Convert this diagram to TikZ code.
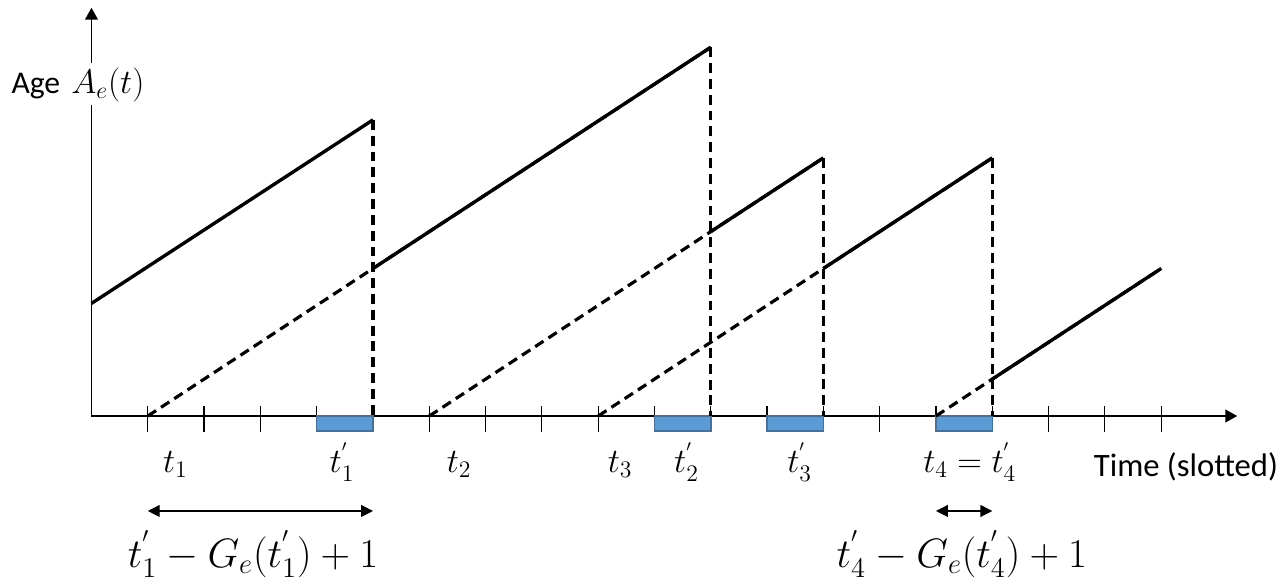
\documentclass[tikz,border=0pt]{standalone}
\usepackage{amsmath}
\usepackage{fontspec}
\newfontfamily\calibrifont{Carlito}
\usepackage{tikz}
\usetikzlibrary{arrows.meta,positioning}
\usepackage{xcolor}
\definecolor{slotblue}{RGB}{91,155,213}
\definecolor{slotedge}{RGB}{65,113,156}
\tikzstyle{axis} = [line width=0.8pt,-{Triangle[length=6pt,width=6.5pt]}]
\tikzstyle{tick} = [line width=0.6pt]
\tikzstyle{agecurve} = [line width=1.7pt]
\tikzstyle{ghost} = [line width=1.6pt, dash pattern=on 5pt off 3pt]
\tikzstyle{slot} = [fill=slotblue, draw=slotedge, line width=0.8pt]
\tikzstyle{span} = [line width=0.6pt,{Triangle[length=6pt,width=6pt]}-{Triangle[length=6pt,width=6pt]}]
\tikzstyle{tlabel} = [anchor=base, inner sep=0pt, font=\fontsize{16.5}{19}\selectfont]
\tikzstyle{biglabel} = [anchor=base, inner sep=0pt, font=\fontsize{22.5}{26}\selectfont]

\begin{document}
\begin{tikzpicture}
\useasboundingbox (-1.625,-3.002) rectangle (21.217,7.389);

% Axes
\coordinate (origin) at (0,0);
\coordinate (xend) at (20.35,0);
\coordinate (yend) at (0,7.25);
\draw[axis] (origin) -- (xend);
\draw[axis] (origin) -- (yend);

% Slots
\foreach \k in {1,...,19} {
  \coordinate (s\k) at (\k,0);
  \draw[tick] (\k,0.18) -- (\k,-0.28);
}

% Transmission slots
\foreach \k in {4,10,12,15} {
  \draw[slot] (\k,0) rectangle (\k+1,-0.27);
}

% Corners of the age curve
\coordinate (start0) at (0,2.0);
\coordinate (top1) at (5,5.26);
\coordinate (top2) at (11,6.55);
\coordinate (top3) at (13,4.585);
\coordinate (top4) at (16,4.585);
\coordinate (end5) at (19,2.62);
\coordinate (jump1) at (5,2.62);
\coordinate (jump2) at (11,3.275);
\coordinate (jump3) at (13,2.62);
\coordinate (jump4) at (16,0.655);

% Dashed lines
\draw[ghost] (s1) -- (top2);
\draw[ghost] (s6) -- (top3);
\draw[ghost] (s9) -- (top4);
\draw[ghost] (s15) -- (end5);
\draw[ghost] (top1) -- (s5);
\draw[ghost] (top2) -- (s11);
\draw[ghost] (top3) -- (s13);
\draw[ghost] (top4) -- (s16);

% Age
\draw[agecurve] (start0) -- (top1);
\draw[agecurve] (jump1) -- (top2);
\draw[agecurve] (jump2) -- (top3);
\draw[agecurve] (jump3) -- (top4);
\draw[agecurve] (jump4) -- (end5);

% Labels
\node[fill=white, anchor=base, inner sep=2pt, font=\fontsize{18.5}{22}\selectfont] (agelabel) at (-0.24,5.737) {{\calibrifont\fontsize{16}{19}\selectfont Age} $A_e(t)$};
\node[anchor=base, inner sep=0pt, font=\fontsize{16.5}{19}\calibrifont] (timelabel) at (19.44,-1.08) {Time (slotted)};

\node[tlabel] (t1) at (1.49,-1.01) {$t_1$};
\node[tlabel] (t1p) at (4.45,-1.01) {$t_1^{'}$};
\node[tlabel] (t2) at (6.53,-1.01) {$t_2$};
\node[tlabel] (t3) at (9.39,-1.01) {$t_3$};
\node[tlabel] (t2p) at (10.57,-1.01) {$t_2^{'}$};
\node[tlabel] (t3p) at (12.58,-1.01) {$t_3^{'}$};
\node[tlabel] (t4) at (15.6,-1.01) {$t_4 = t_4^{'}$};

% Waiting spans
\coordinate (spanA) at (1,-1.687);
\coordinate (spanB) at (5,-1.687);
\coordinate (spanC) at (15,-1.687);
\coordinate (spanD) at (16,-1.687);
\draw[span] (spanA) -- (spanB);
\draw[span] (spanC) -- (spanD);

\node[biglabel] (gap1) at (2.87,-2.69) {$t_1^{'} - G_e(t_1^{'}) + 1$};
\node[biglabel] (gap4) at (15.46,-2.69) {$t_4^{'} - G_e(t_4^{'}) + 1$};
\end{tikzpicture}
\end{document}
